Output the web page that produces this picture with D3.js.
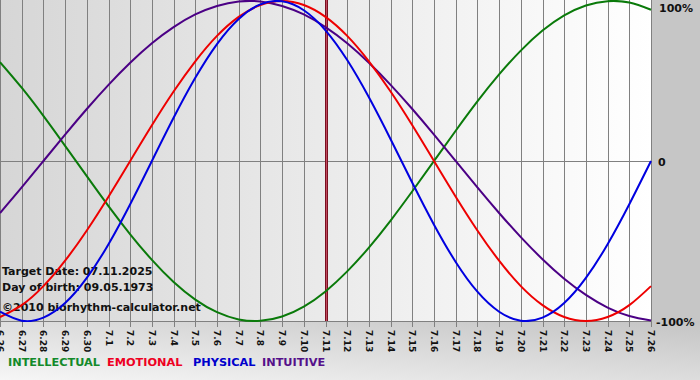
<!DOCTYPE html>
<html>
<head>
<meta charset="utf-8">
<script src="https://cdn.jsdelivr.net/npm/d3@7"></script>
<style>
html,body{margin:0;padding:0;background:#c6c6c6;}
svg{display:block;}
text{font-family:"DejaVu Sans",Verdana,sans-serif;font-weight:bold;}
</style>
</head>
<body>
<svg id="chart" width="700" height="380"></svg>
<script>
const dayLabels = ["6.26","6.27","6.28","6.29","6.30","7.1","7.2","7.3","7.4","7.5","7.6","7.7","7.8","7.9","7.10","7.11","7.12","7.13","7.14","7.15","7.16","7.17","7.18","7.19","7.20","7.21","7.22","7.23","7.24","7.25","7.26"];
const physical = [-0.942,-0.998,-0.979,-0.888,-0.731,-0.520,-0.270,0.000,0.270,0.520,0.731,0.888,0.979,0.998,0.942,0.817,0.631,0.398,0.136,-0.136,-0.398,-0.631,-0.817,-0.942,-0.998,-0.979,-0.888,-0.731,-0.520,-0.270,0.000];
const emotional = [-0.975,-0.901,-0.782,-0.623,-0.434,-0.223,0.000,0.223,0.434,0.623,0.782,0.901,0.975,1.000,0.975,0.901,0.782,0.623,0.434,0.223,0.000,-0.223,-0.434,-0.623,-0.782,-0.901,-0.975,-1.000,-0.975,-0.901,-0.782];
const intellectual = [0.618,0.458,0.282,0.095,-0.095,-0.282,-0.458,-0.618,-0.756,-0.866,-0.945,-0.990,-0.999,-0.972,-0.910,-0.815,-0.690,-0.541,-0.372,-0.189,0.000,0.189,0.372,0.541,0.690,0.815,0.910,0.972,0.999,0.990,0.945];
const intuitive = [-0.325,-0.165,0.000,0.165,0.325,0.476,0.614,0.736,0.837,0.916,0.969,0.997,0.997,0.969,0.916,0.837,0.736,0.614,0.476,0.325,0.165,0.000,-0.165,-0.325,-0.476,-0.614,-0.736,-0.837,-0.916,-0.969,-0.997];
const yTickValues = [1, 0, -1];
const yTickLabels = ["100%", "0", "-100%"];
const targetIndex = 15;
const infoLines = ["Target Date: 07.11.2025", "Day of birth: 09.05.1973", "\u00a92010 biorhythm-calculator.net"];
const legendNames = ["INTELLECTUAL", "EMOTIONAL", "PHYSICAL", "INTUITIVE"];

const colors = {
  INTELLECTUAL: "#0a7a0a",
  EMOTIONAL: "#ee0000",
  PHYSICAL: "#0000e0",
  INTUITIVE: "#4b0085"
};
const legendColors = {
  INTELLECTUAL: "#138a2a",
  EMOTIONAL: "#ee0022",
  PHYSICAL: "#0000cc",
  INTUITIVE: "#55108a"
};

const svg = d3.select("#chart");
const W = 651, H = 321;
const x = d3.scaleLinear().domain([0, dayLabels.length - 1]).range([0, W]);
const y = d3.scaleLinear().domain([-1, 1]).range([H, 1]);

const defs = svg.append("defs");
const g1 = defs.append("linearGradient").attr("id", "plotbg").attr("x1", "0").attr("x2", "1").attr("y1", "0").attr("y2", "0");
g1.append("stop").attr("offset", "0").attr("stop-color", "#d6d6d6");
g1.append("stop").attr("offset", "1").attr("stop-color", "#ffffff");
const g2 = defs.append("linearGradient").attr("id", "bottombg").attr("x1", "0").attr("x2", "1").attr("y1", "1").attr("y2", "0");
g2.append("stop").attr("offset", "0").attr("stop-color", "#f6f6f6");
g2.append("stop").attr("offset", "1").attr("stop-color", "#c4c4c4");

svg.append("rect").attr("x", 0).attr("y", 0).attr("width", 700).attr("height", 380).attr("fill", "#c6c6c6");
svg.append("rect").attr("x", 0).attr("y", H).attr("width", 700).attr("height", 380 - H).attr("fill", "url(#bottombg)");
svg.append("rect").attr("x", 0).attr("y", 0).attr("width", W).attr("height", H).attr("fill", "url(#plotbg)");

// vertical grid
svg.append("g").selectAll("line").data(dayLabels).join("line")
  .attr("x1", (d, i) => Math.round(x(i)) + 0.5).attr("x2", (d, i) => Math.round(x(i)) + 0.5)
  .attr("y1", 0).attr("y2", H + 6)
  .attr("stroke", "#808080").attr("stroke-width", 1);

// horizontal lines
svg.append("line").attr("x1", 0).attr("x2", W).attr("y1", Math.round(y(0)) + 0.5).attr("y2", Math.round(y(0)) + 0.5)
  .attr("stroke", "#808080");
svg.append("line").attr("x1", 0).attr("x2", W).attr("y1", H + 0.5).attr("y2", H + 0.5)
  .attr("stroke", "#808080");

// target line
const tx = Math.round(x(targetIndex)) + 0.5;
svg.append("line").attr("x1", tx).attr("x2", tx).attr("y1", 0).attr("y2", H)
  .attr("stroke", "#7a1020").attr("stroke-width", 3);
svg.append("line").attr("x1", tx).attr("x2", tx).attr("y1", 0).attr("y2", H)
  .attr("stroke", "#c04a60").attr("stroke-width", 1);

// info text
svg.append("g").selectAll("text").data(infoLines).join("text")
  .attr("x", 2).attr("y", (d, i) => [275, 291, 311][i])
  .attr("font-size", "11px").attr("fill", "#111").text(d => d);

// curves
const line = d3.line().x((d, i) => x(i)).y(d => y(d)).curve(d3.curveNatural);
const series = [
  {name: "INTELLECTUAL", values: intellectual},
  {name: "INTUITIVE", values: intuitive},
  {name: "EMOTIONAL", values: emotional},
  {name: "PHYSICAL", values: physical}
];
const clip = defs.append("clipPath").attr("id", "pclip");
clip.append("rect").attr("x", 0).attr("y", -2).attr("width", W + 1).attr("height", H + 3);
svg.append("g").attr("clip-path", "url(#pclip)").selectAll("path").data(series).join("path")
  .attr("d", d => line(d.values)).attr("fill", "none")
  .attr("stroke", d => colors[d.name]).attr("stroke-width", 2);

// x labels
svg.append("g").selectAll("text").data(dayLabels).join("text")
  .attr("transform", (d, i) => `translate(${Math.round(x(i)) - 3},${H + 9}) rotate(90)`)
  .attr("font-size", "9px").attr("fill", "#111").text(d => d);

// y labels
svg.append("g").selectAll("text").data(yTickValues).join("text")
  .attr("x", (d, i) => [659, 658, 656][i])
  .attr("y", d => Math.min(Math.max(y(d) + 5, 12), H + 5))
  .attr("font-size", "11px").attr("fill", "#111").text((d, i) => yTickLabels[i]);

// legend
const legendX = [8, 107, 193, 262];
svg.append("g").selectAll("text").data(legendNames).join("text")
  .attr("x", (d, i) => legendX[i]).attr("y", 366)
  .attr("font-size", "11.3px").attr("fill", d => legendColors[d]).text(d => d);
</script>
</body>
</html>
